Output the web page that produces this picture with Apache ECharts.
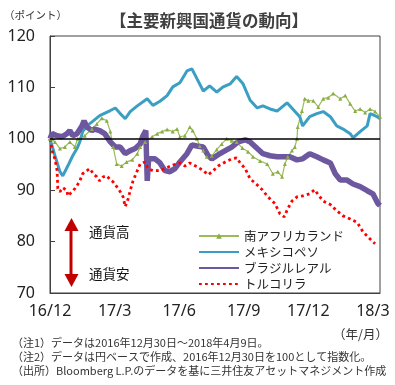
<!DOCTYPE html>
<html>
<head>
<meta charset="utf-8">
<script src="https://cdn.jsdelivr.net/npm/echarts@6/dist/echarts.min.js"></script>
<style>html,body{margin:0;padding:0;background:#fff;}#c{width:395px;height:385px;}</style>
</head>
<body>
<div id="c"></div>
<script>
// x values: days since 2016-12-30
const xTickLabels = ['16/12', '17/3', '17/6', '17/9', '17/12', '18/3'];
const yTicks = [70, 80, 90, 100, 110, 120];

const zarDays = [0,7,14,21,28,35,39,49,59,66,73,80,85,89,94,101,108,116,123,127,134,144,151,158,165,173,179,183,190,197,201,207,211,216,221,228,235,242,249,256,263,271,279,286,296,306,314,321,327,331,335,341,345,348,349,355,359,364,371,378,385,392,399,409,416,423,430,437,444,451,458,465];
const zarVals = [100,99.4,98.1,98.4,99.4,98.4,100,100.6,101.9,102.9,104,103.5,101.4,98.4,95.1,94.7,95.5,95.9,97.1,98.4,99.4,100.4,101,101.4,101.8,101.4,101.9,100.4,100.6,102.3,101.6,100,98.6,97.7,96.5,96.7,97.9,99,100,99.6,99.4,98.2,97.5,96.5,95.7,95.1,93.2,93.6,92.6,95.1,96.5,97.7,98.4,100,102.3,105.4,107.8,107.4,107.4,106.2,107.8,108,108.8,107.8,108.4,106.8,105.4,105.8,105.1,105.8,105.3,104.3];

const mxnDays = [0,7,14,18,25,32,38,42,46,52,61,70,85,92,99,106,113,123,137,145,155,165,173,183,193,200,207,216,225,235,244,254,263,272,282,292,300,310,320,334,342,352,356,366,376,385,395,404,413,423,427,437,447,451,461,465];
const mxnVals = [100,96.7,93.6,92.8,94.7,96.7,98.1,99.4,101.4,102.5,103.5,104.5,105.5,106,104.9,103.9,105.3,106.4,107.8,106.5,107.3,108.4,110.1,110.9,113.2,113.6,111.7,109.3,110.3,109.1,110.1,110.7,112.1,110.7,107.5,106,106.4,105.8,105.4,107,105.8,104.3,102.5,104.3,104.9,105.3,104.3,102.5,101.9,101,100.2,101.4,102.5,104.9,104.3,103.9];

const brlDays = [0,3,10,17,24,28,32,38,45,48,52,59,63,70,77,85,92,99,106,113,120,127,131,135,137,139,148,155,162,169,176,183,193,200,207,216,223,228,237,247,256,265,275,282,292,300,310,320,328,338,348,356,366,376,385,395,402,409,418,427,437,447,455,462,465];
const brlVals = [100,101,100.6,100.4,101,101.6,100.6,101,102.5,103.5,102.3,101.6,101.9,101.6,101,99.4,98.4,98.4,97.1,97.7,98.1,99,100.6,101.6,91.8,96.1,96.1,95.3,93.8,93.6,94.2,95.5,97.1,98.8,98.6,98.4,96.7,96.1,96.9,97.7,98.4,99.4,99.8,99.4,98.1,97.1,96.7,96.5,96.5,96.5,95.9,96.1,97.1,96.5,95.9,95.3,93.2,92,92,91.2,90.7,89.9,89.3,87.4,87];

const tryDays = [0,4,7,10,11,14,18,24,25,31,35,39,42,46,52,56,61,66,70,75,80,85,89,94,99,103,106,110,113,117,123,127,134,138,145,155,165,173,183,190,197,207,216,223,230,237,247,256,263,268,275,282,289,299,307,317,324,330,335,341,348,356,366,373,378,385,395,404,413,423,433,441,451,458];
const tryVals = [100,97.1,96.1,93.8,90.3,89.7,90.5,89.9,88.9,89.7,90.3,91.1,91.8,93.2,93.8,94.2,93.2,92.6,91.8,92.6,92.8,92,91.6,90.7,89.7,88.7,86.8,88.3,89.9,91.8,93.8,95.1,95.5,94.2,93.8,93.8,94.4,94.9,95.3,94.7,95.3,94.6,93.8,93,93.8,94.7,95.5,96.1,96.3,95.3,94.2,92.2,91.4,90.1,88.7,87.4,85.4,84.8,86.4,87.9,88.7,88.9,89.3,90.1,89.1,87.9,87.2,86,85,84.4,83.7,81.9,80.5,79.6];

const seriesNames = ['南アフリカランド', 'メキシコペソ', 'ブラジルレアル', 'トルコリラ'];
const baseValue = 100;

function pairs(d, v) { return d.map((x, i) => [x, v[i]]); }

const cjk = '"Noto Sans CJK JP", "Noto Sans", sans-serif';
const num = '"Noto Sans", "Noto Sans CJK JP", sans-serif';

const chart = echarts.init(document.getElementById('c'));
chart.setOption({
  animation: false,
  backgroundColor: '#fff',
  title: {
    text: '【主要新興国通貨の動向】',
    left: 105, top: 7,
    textStyle: { fontFamily: cjk, fontSize: 16.5, fontWeight: 'bold', color: '#404040' }
  },
  grid: { left: 50, right: 15, top: 36, bottom: 92, show: true, borderColor: '#404040', borderWidth: 1 },
  legend: {
    orient: 'vertical', left: 198, top: 229, padding: 0,
    itemWidth: 40, itemHeight: 7, itemGap: 2,
    textStyle: { fontFamily: cjk, fontSize: 12.5, color: '#222', lineHeight: 14 },
    data: [
      { name: seriesNames[0] },
      { name: seriesNames[1], itemStyle: { opacity: 0 } },
      { name: seriesNames[2], itemStyle: { opacity: 0 } },
      { name: seriesNames[3], itemStyle: { opacity: 0 } }
    ]
  },
  xAxis: {
    type: 'value', min: 0, max: 465, interval: 91,
    axisLine: { show: true, lineStyle: { color: '#404040' } },
    axisTick: { show: false },
    splitLine: { show: false },
    axisLabel: {
      fontFamily: num, fontSize: 16, color: '#222', margin: 10,
      showMinLabel: true, showMaxLabel: true, hideOverlap: false,
      formatter: function (v) {
        const i = Math.round(v / 91);
        return (v % 91 === 0 && i < xTickLabels.length) ? xTickLabels[i] : '';
      }
    }
  },
  yAxis: {
    type: 'value', min: yTicks[0], max: yTicks[yTicks.length - 1], interval: 10,
    axisLine: { show: true, lineStyle: { color: '#404040' } },
    axisTick: { show: true, inside: true, length: 5, lineStyle: { color: '#404040' } },
    splitLine: { show: false },
    axisLabel: { fontFamily: num, fontSize: 16, color: '#222', margin: 15 }
  },
  series: [
    {
      name: seriesNames[0], type: 'line', data: pairs(zarDays, zarVals),
      symbol: 'triangle', symbolSize: 4, showSymbol: true, showAllSymbol: true,
      itemStyle: { color: '#8aad45' },
      lineStyle: { color: '#9bbb59', width: 1.2 }
    },
    {
      name: seriesNames[1], type: 'line', data: pairs(mxnDays, mxnVals),
      symbol: 'none', showSymbol: false,
      itemStyle: { color: '#3a9fc2' },
      lineStyle: { color: '#3a9fc2', width: 3 }
    },
    {
      name: seriesNames[2], type: 'line', data: pairs(brlDays, brlVals),
      symbol: 'none', showSymbol: false,
      itemStyle: { color: '#6d579f' },
      lineStyle: { color: '#6d579f', width: 5.5 }
    },
    {
      name: seriesNames[3], type: 'line', data: pairs(tryDays, tryVals),
      symbol: 'none', showSymbol: false,
      itemStyle: { color: '#ff0000' },
      lineStyle: { color: '#ff0000', width: 2.8, type: [2.8, 3.2] },
      markLine: {
        silent: true, symbol: 'none', label: { show: false },
        lineStyle: { color: '#000', width: 1.5, type: 'solid' },
        data: [{ yAxis: baseValue }]
      }
    }
  ],
  graphic: [
    { type: 'text', left: 4, top: 10, style: { text: '（ポイント）', fontFamily: cjk, fontSize: 10.5, fill: '#333' } },
    { type: 'line', shape: { x1: 71, y1: 226, x2: 71, y2: 280 }, style: { stroke: '#c00000', lineWidth: 3 } },
    { type: 'polygon', shape: { points: [[64.5, 231], [71.5, 218], [78.5, 231]] }, style: { fill: '#c00000' } },
    { type: 'polygon', shape: { points: [[64.5, 274], [71.5, 287], [78.5, 274]] }, style: { fill: '#c00000' } },
    { type: 'text', x: 89, y: 232, style: { text: '通貨高', fontFamily: cjk, fontSize: 13.5, fill: '#111', verticalAlign: 'middle' } },
    { type: 'text', x: 89, y: 274, style: { text: '通貨安', fontFamily: cjk, fontSize: 13.5, fill: '#111', verticalAlign: 'middle' } },
    { type: 'text', x: 388, y: 334, style: { text: '（年/月）', fontFamily: cjk, fontSize: 12.5, fill: '#333', align: 'right', verticalAlign: 'middle' } },
    { type: 'text', x: 12, y: 343, style: { text: '（注1）データは2016年12月30日～2018年4月9日。', fontFamily: cjk, fontSize: 11, fill: '#333', verticalAlign: 'middle' } },
    { type: 'text', x: 12, y: 357, style: { text: '（注2）データは円ベースで作成、2016年12月30日を100として指数化。', fontFamily: cjk, fontSize: 11, fill: '#333', verticalAlign: 'middle' } },
    { type: 'text', x: 12, y: 371, style: { text: '（出所）Bloomberg L.P.のデータを基に三井住友アセットマネジメント作成', fontFamily: cjk, fontSize: 11, fill: '#333', verticalAlign: 'middle' } }
  ]
});
</script>
</body>
</html>
